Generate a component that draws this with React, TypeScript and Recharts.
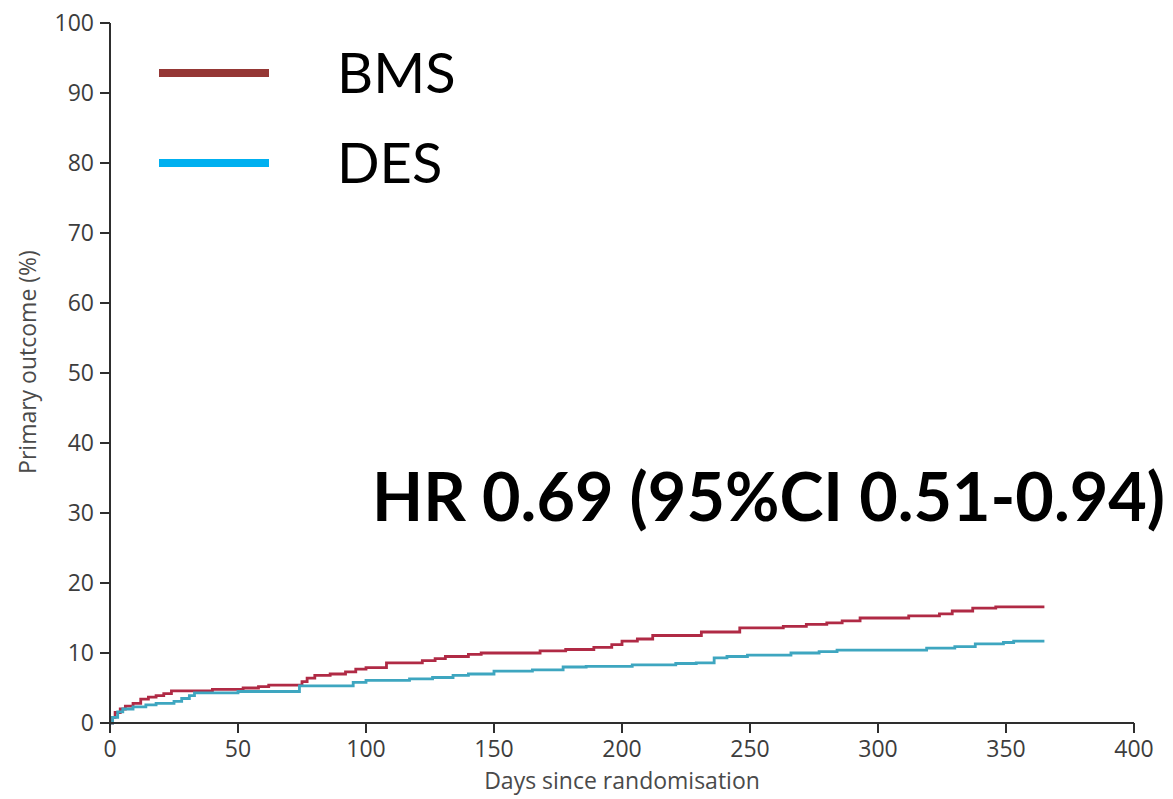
import React from "react"
import { LineChart, Line, XAxis, YAxis } from "recharts"

// Kaplan-Meier style cumulative curves (day, %)
const bmsDays = [0, 1, 2, 4, 6, 9, 12, 15, 18, 21, 24, 40, 52, 58, 62, 75, 77, 80, 86, 92, 96, 100, 108, 122, 127, 131, 140, 145, 168, 178, 189, 196, 200, 206, 212, 231, 246, 263, 272, 280, 286, 293, 312, 324, 329, 337, 346, 365]
const bmsPct = [0, 0.8, 1.5, 2.0, 2.4, 2.8, 3.4, 3.7, 3.9, 4.2, 4.6, 4.8, 5.0, 5.2, 5.4, 5.9, 6.4, 6.8, 7.0, 7.3, 7.7, 7.9, 8.6, 8.9, 9.2, 9.5, 9.8, 10.0, 10.3, 10.5, 10.8, 11.2, 11.7, 12.0, 12.5, 13.0, 13.6, 13.8, 14.1, 14.3, 14.6, 15.0, 15.3, 15.6, 16.0, 16.4, 16.6, 16.6]

const desDays = [0, 1, 3, 5, 9, 14, 18, 25, 28, 31, 33, 50, 74, 95, 100, 117, 126, 134, 140, 150, 165, 177, 186, 204, 221, 229, 236, 241, 249, 266, 277, 284, 319, 330, 338, 349, 353, 365]
const desPct = [0, 0.8, 1.6, 2.0, 2.3, 2.6, 2.8, 3.1, 3.5, 3.9, 4.3, 4.5, 5.3, 5.8, 6.1, 6.3, 6.5, 6.8, 7.0, 7.4, 7.6, 8.0, 8.1, 8.3, 8.5, 8.6, 9.3, 9.5, 9.7, 10.0, 10.2, 10.4, 10.7, 10.9, 11.3, 11.5, 11.7, 11.7]

const xTicks = [0, 50, 100, 150, 200, 250, 300, 350, 400]
const yTicks = [0, 10, 20, 30, 40, 50, 60, 70, 80, 90, 100]

const seriesNames = ["BMS", "DES"]
const lineColors = ["#b02a45", "#3ea6c0"]
const legendColors = ["#953735", "#00b0f0"]

const hrText = "HR 0.69 (95%CI 0.51-0.94)"

const toPoints = (days: number[], pct: number[]) =>
    days.map((d, i) => ({ day: d, value: pct[i] }))

const bmsData = toPoints(bmsDays, bmsPct)
const desData = toPoints(desDays, desPct)

const AXIS = "#2e2e2e"
const FONT = "'Open Sans', sans-serif"
const tickStyle = { fontFamily: FONT, fontSize: 23, fill: "#3d3d3d" }

const YTitle = () => (
    <text
        x={27}
        y={362}
        transform="rotate(-90 27 362)"
        textAnchor="middle"
        dominantBaseline="central"
        fontFamily={FONT}
        fontSize={23}
        fill="#4a4a4a"
    >
        Primary outcome (%)
    </text>
)

const XTitle = () => (
    <text x={622} y={789} textAnchor="middle" fontFamily={FONT} fontSize={23} fill="#4a4a4a">
        Days since randomisation
    </text>
)

export default function App() {
    return (
        <div>
            <style>{`body{margin:0}`}</style>
            <LineChart
                width={1173}
                height={799}
                margin={{ top: 23, right: 39, bottom: 0, left: 0 }}
            >
                <XAxis
                    type="number"
                    dataKey="day"
                    domain={[0, 400]}
                    ticks={xTicks}
                    height={76}
                    tickSize={10}
                    tickMargin={8}
                    tick={tickStyle}
                    axisLine={{ stroke: AXIS, strokeWidth: 2 }}
                    tickLine={{ stroke: AXIS, strokeWidth: 2 }}
                    label={{ content: () => <XTitle /> }}
                />
                <YAxis
                    type="number"
                    domain={[0, 100]}
                    ticks={yTicks}
                    width={110}
                    tickSize={10}
                    tickMargin={6}
                    tick={tickStyle}
                    axisLine={{ stroke: AXIS, strokeWidth: 2 }}
                    tickLine={{ stroke: AXIS, strokeWidth: 2 }}
                    label={{ content: () => <YTitle /> }}
                />
                <Line
                    data={bmsData}
                    dataKey="value"
                    name={seriesNames[0]}
                    type="stepAfter"
                    stroke={lineColors[0]}
                    strokeWidth={2.8}
                    dot={false}
                    isAnimationActive={false}
                />
                <Line
                    data={desData}
                    dataKey="value"
                    name={seriesNames[1]}
                    type="stepAfter"
                    stroke={lineColors[1]}
                    strokeWidth={2.8}
                    dot={false}
                    isAnimationActive={false}
                />

                {/* legend */}
                {seriesNames.map((name, i) => (
                    <g key={name}>
                        <rect x={159} y={69 + i * 90} width={110} height={8} fill={legendColors[i]} />
                        <text
                            x={337}
                            y={93 + i * 90}
                            fontFamily="Lato, sans-serif"
                            fontSize={56}
                            fill="#000"
                        >
                            {name}
                        </text>
                    </g>
                ))}

                <text
                    x={372}
                    y={521}
                    fontFamily="Lato, sans-serif"
                    fontWeight="bold"
                    fontSize={66}
                    fill="#000"
                    textLength={793}
                    lengthAdjust="spacingAndGlyphs"
                >
                    {hrText}
                </text>
            </LineChart>
        </div>
    )
}
